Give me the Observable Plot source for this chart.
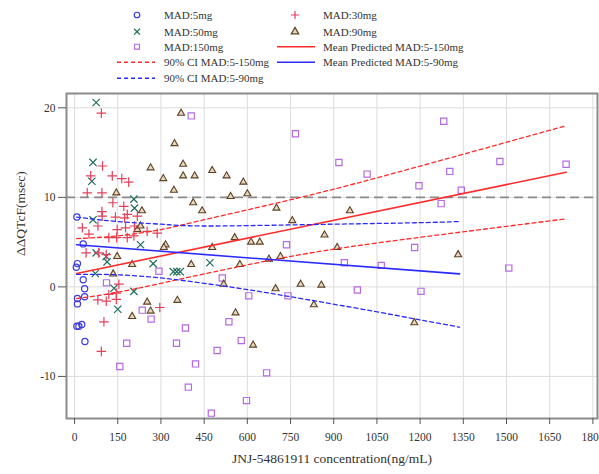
<!DOCTYPE html>
<html><head><meta charset="utf-8">
<script src="https://cdn.jsdelivr.net/npm/d3@7"></script>
<script src="https://cdn.jsdelivr.net/npm/@observablehq/plot@0.6"></script>
<style>
body{margin:0;background:#fff;}
#wrap{position:relative;width:599px;height:474px;overflow:hidden;background:#fff;}
#legend{position:absolute;left:0;top:0;}
#chart{position:absolute;left:0;top:88px;}
svg, svg text{font-family:"Liberation Serif","DejaVu Serif",serif !important;}
</style></head><body><div id="wrap"><svg id="legend" width="599" height="88"></svg><div id="chart"></div></div>
<script>
// ---- data: [concentration (ng/mL), ddQTcF (msec)] ----
const mad5 = [[8,7.8],[30,4.8],[10,2.6],[6,2.2],[30,0.8],[35,-0.2],[10,-1.3],[35,-1.1],[10,-1.9],[8,-4.4],[25,-4.2],[15,-4.4],[36,-6.1]];
const mad30 = [[93,19.4],[97,13.5],[56,12.4],[131,12.4],[164,12.1],[188,11.7],[44,10.5],[95,10.5],[133,9.4],[171,9.0],[95,8.4],[183,8.1],[96,7.9],[142,7.8],[174,7.7],[218,7.9],[81,6.8],[208,6.8],[27,6.6],[177,6.6],[148,6.4],[252,6.2],[287,6.0],[50,5.9],[206,5.7],[119,5.5],[146,5.5],[183,5.5],[40,3.8],[84,3.8],[110,3.6],[154,0.3],[119,-0.85],[145,-0.7],[81,-1.45],[110,-1.6],[145,-1.4],[296,-2.3],[102,-3.9],[93,-7.2]];
const mad50 = [[75,20.6],[64,13.9],[60,11.8],[206,9.8],[208,8.8],[64,7.5],[229,4.7],[75,3.8],[110,3.4],[113,2.8],[72,1.5],[137,-0.15],[206,-0.5],[150,-2.5],[273,2.6],[343,1.7],[355,1.7],[367,1.7],[470,2.7]];
const mad90 = [[370,19.4],[347,16.0],[264,13.3],[377,13.7],[478,13.0],[308,12.1],[377,12.4],[417,12.4],[528,12.4],[586,11.7],[345,10.8],[145,10.5],[542,10.1],[600,10.4],[412,9.4],[443,8.5],[234,8.5],[218,6.4],[229,6.8],[701,8.8],[756,7.4],[956,8.5],[868,5.8],[556,5.5],[613,5.0],[643,5.0],[478,4.4],[316,4.7],[310,4.4],[148,3.4],[134,1.45],[200,2.5],[405,2.5],[574,2.5],[675,3.1],[715,3.4],[912,4.4],[518,0.3],[698,-0.2],[785,0.3],[857,0.2],[1332,3.6],[357,-1.5],[252,-1.7],[264,-2.7],[200,-3.3],[559,-2.9],[831,-2.0],[620,-6.5],[1180,-4.0]];
const mad150 = [[405,19.1],[767,17.1],[918,13.9],[1016,12.6],[736,4.7],[937,2.7],[1065,2.4],[513,1.0],[982,-0.35],[1282,18.5],[1477,14.0],[1303,12.9],[1707,13.7],[1196,11.3],[1343,10.8],[1273,9.3],[1181,4.4],[1508,2.1],[1203,-0.5],[605,-1.0],[741,-1.0],[536,-3.9],[579,-6.0],[495,-7.1],[420,-8.6],[667,-9.6],[597,-12.7],[475,-14.1],[111,0.45],[235,-2.6],[266,-3.6],[181,-6.3],[157,-8.9],[354,-6.3],[385,-4.6],[395,-11.2],[293,1.75]];

// model lines
const meanRed = [[7,1.5],[1707,12.8]];
const ciRedUpper = [[7,5.4],[150,5.7],[300,6.4],[450,7.5],[785,10.0],[1167,13.2],[1707,18.0]];
const ciRedLower = [[7,-1.3],[150,-0.6],[300,0.4],[450,1.45],[785,3.6],[1167,5.4],[1707,7.6]];
const meanBlue = [[7,4.7],[1337,1.45]];
const ciBlueUpper = [[7,7.8],[150,7.3],[300,7.0],[450,6.8],[800,6.95],[1167,7.15],[1337,7.3]];
const ciBlueLower = [[7,1.4],[150,1.35],[300,1.0],[450,0.4],[600,-0.3],[750,-1.1],[1000,-2.5],[1337,-4.5]];

const refLine = [10];
const xTicks = [0,150,300,450,600,750,900,1050,1200,1350,1500,1650,1800];
const yTicks = [-10,0,10,20];
const xLabel = "JNJ-54861911 concentration(ng/mL)";
const yLabel = "ΔΔQTcF(msec)";

const legendLabels = ["MAD:5mg","MAD:30mg","MAD:50mg","MAD:90mg","MAD:150mg","Mean Predicted MAD:5-150mg","90% CI MAD:5-150mg","Mean Predicted MAD:5-90mg","90% CI MAD:5-90mg"];

// ---- styles ----
const C = {
  blue:"#3b3be0", green:"#1e6e5c", purple:"#b56ae6", red:"#e3405a",
  brown:"#5e4026", beige:"#e6d9bd", lineRed:"#ff2a2a", lineBlue:"#2a2aff"
};
const font = "Liberation Serif, DejaVu Serif, serif";

const dotStyle = {
  c5:{symbol:"circle", stroke:C.blue, fill:"none"},
  c30:{symbol:"plus", stroke:C.red, fill:"none"},
  c50:{symbol:"times", stroke:C.green, fill:"none"},
  c90:{symbol:"triangle", stroke:C.brown, fill:C.beige},
  c150:{symbol:"square", stroke:C.purple, fill:"none"}
};

const dots = (data, st, r=3.5, sw=1.2) => Plot.dot(data, {x: d=>d[0], y: d=>d[1], r, strokeWidth:sw, ...st});
const line = (data, stroke, dash, w=1.5, curve="natural") => Plot.line(data, {x:d=>d[0], y:d=>d[1], stroke, strokeWidth:w, strokeDasharray:dash, curve});

const chart = Plot.plot({
  width: 599, height: 386,
  marginTop: 5, marginBottom: 56, marginLeft: 66, marginRight: 2,
  style: {fontFamily: font, fontSize: "11.5px", color: "#333", background: "#fff"},
  x: {domain: [-28, 1816]},
  y: {domain: [-14.7, 21.6]},
  marks: [
    Plot.gridX(xTicks, {stroke:"#dcdcdc", strokeOpacity:1}),
    Plot.gridY(yTicks, {stroke:"#dcdcdc", strokeOpacity:1}),
    Plot.ruleY(refLine, {stroke:"#8a8a8a", strokeWidth:1.6, strokeDasharray:"9,5"}),
    dots(mad150, dotStyle.c150, 3.5),
    dots(mad90, dotStyle.c90, 2.6, 1.1),
    dots(mad50, dotStyle.c50, 3.4),
    dots(mad30, dotStyle.c30, 3.2),
    dots(mad5, dotStyle.c5, 3.1),
    line(ciRedUpper, C.lineRed, "4,3", 1.3),
    line(ciRedLower, C.lineRed, "4,3", 1.3),
    line(meanRed, C.lineRed, null, 1.6, "linear"),
    line(ciBlueUpper, C.lineBlue, "4,3", 1.3),
    line(ciBlueLower, C.lineBlue, "4,3", 1.3),
    line(meanBlue, C.lineBlue, null, 1.6, "linear"),
    Plot.frame({stroke:"#8c8c8c", strokeWidth:2}),
    Plot.axisX(xTicks, {tickSize:6, tickPadding:8, label:null, tickFormat:d=>String(d), stroke:"#555"}),
    Plot.axisY(yTicks, {tickSize:8, tickPadding:3, label:null, tickFormat:d=>String(d), stroke:"#555"}),
    Plot.text([xLabel], {frameAnchor:"bottom", dy:44, fontSize:13.5, fill:"#333"}),
    Plot.text([yLabel], {frameAnchor:"left", dx:-46, rotate:-90, fontSize:13.5, fill:"#333"})
  ]
});
document.getElementById("chart").appendChild(chart);

// ---- legend ----
const lg = d3.select("#legend").style("font-family", font);
const rowY = [15, 31.7, 46.7, 62.3, 78.3];
const colSym = [137, 295], colLine = [[117,155],[277,315]], colText = [164, 323];
const items = [
  {label:legendLabels[0], col:0, row:0, type:d3.symbolCircle, stroke:C.blue, fill:"none"},
  {label:legendLabels[1], col:1, row:0, type:d3.symbolPlus, stroke:C.red, fill:"none"},
  {label:legendLabels[2], col:0, row:1, type:d3.symbolTimes, stroke:C.green, fill:"none"},
  {label:legendLabels[3], col:1, row:1, type:d3.symbolTriangle, stroke:C.brown, fill:C.beige},
  {label:legendLabels[4], col:0, row:2, type:d3.symbolSquare, stroke:C.purple, fill:"none"},
  {label:legendLabels[5], col:1, row:2, line:C.lineRed, dash:null},
  {label:legendLabels[6], col:0, row:3, line:C.lineRed, dash:"4,3"},
  {label:legendLabels[7], col:1, row:3, line:C.lineBlue, dash:null},
  {label:legendLabels[8], col:0, row:4, line:C.lineBlue, dash:"4,3"}
];
for (const it of items) {
  const y = rowY[it.row];
  if (it.type) {
    lg.append("path").attr("d", d3.symbol(it.type, 24)()).attr("transform", `translate(${colSym[it.col]},${y})`)
      .attr("fill", it.fill).attr("stroke", it.stroke).attr("stroke-width", 1.2);
  } else {
    const [a,b] = colLine[it.col];
    lg.append("line").attr("x1",a).attr("x2",b).attr("y1",y).attr("y2",y)
      .attr("stroke", it.line).attr("stroke-width",1.5).attr("stroke-dasharray", it.dash);
  }
  lg.append("text").attr("x", colText[it.col]).attr("y", y).attr("dy","0.35em")
    .attr("font-size", 11).attr("fill", "#333").text(it.label);
}
</script></body></html>
